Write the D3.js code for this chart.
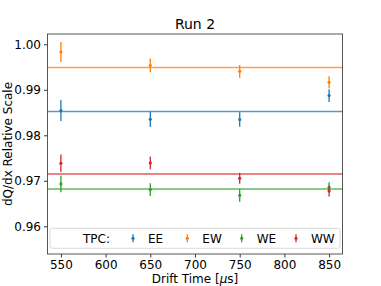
<!DOCTYPE html>
<html>
<head>
<meta charset="utf-8">
<script src="https://cdn.jsdelivr.net/npm/d3@7"></script>
<style>
  body { margin: 0; background: #fff; }
  svg { font-family: "DejaVu Sans", sans-serif; }
</style>
</head>
<body>
<svg id="chart" width="381" height="286"></svg>
<script>
// drift times
var driftTimes = [550, 650, 750, 850];
var tpcNames = ['EE', 'EW', 'WE', 'WW'];
var tpcColors = ['#1f77b4', '#ff7f0e', '#2ca02c', '#d62728'];

// relative scale per drift time, per TPC
var eeValues = [0.98543, 0.98352, 0.98345, 0.98872];
var ewValues = [0.99831, 0.99538, 0.99407, 0.99165];
var weValues = [0.96930, 0.96807, 0.96681, 0.96857];
var wwValues = [0.97385, 0.97392, 0.97055, 0.96776];

var eeErrors = [0.0023, 0.0017, 0.0016, 0.0014];
var ewErrors = [0.0022, 0.0015, 0.0014, 0.0013];
var weErrors = [0.0018, 0.0014, 0.0014, 0.0011];
var wwErrors = [0.0019, 0.0014, 0.0012, 0.0012];

// fitted constant per TPC
var fitLevels = [0.98521, 0.99488, 0.96820, 0.97149];

var xTicks = [550, 600, 650, 700, 750, 800, 850];
var yTicks = [0.96, 0.97, 0.98, 0.99, 1.00];

var series = [
	{ name: 'EE', values: eeValues, errors: eeErrors },
	{ name: 'EW', values: ewValues, errors: ewErrors },
	{ name: 'WE', values: weValues, errors: weErrors },
	{ name: 'WW', values: wwValues, errors: wwErrors }
];

var svg = d3.select('#chart');
var plotLeft = 47.5, plotRight = 342.5, plotTop = 34, plotBottom = 254;

var x = d3.scaleLinear().domain([535, 865]).range([plotLeft, plotRight]);
var y = d3.scaleLinear().domain([0.95391, 1.00226]).range([plotBottom, plotTop]);

var color = d3.scaleOrdinal().domain(tpcNames).range(tpcColors);

// fit lines
svg.selectAll('line.fit')
	.data(fitLevels)
	.enter()
		.append('line')
		.attr('class', 'fit')
		.attr('x1', plotLeft)
		.attr('x2', plotRight)
		.attr('y1', function(d) { return y(d); })
		.attr('y2', function(d) { return y(d); })
		.attr('stroke', function(d, i) { return tpcColors[i]; })
		.attr('stroke-opacity', 0.75)
		.attr('stroke-width', 1.5);

// error bars
var groups = svg.selectAll('g.series')
	.data(series)
	.enter()
		.append('g')
		.attr('class', 'series')
		.attr('fill', function(d) { return color(d.name); })
		.attr('stroke', function(d) { return color(d.name); });

groups.selectAll('line.err')
	.data(function(d) { return d.values.map(function(v, i) { return { t: driftTimes[i], v: v, e: d.errors[i] }; }); })
	.enter()
		.append('line')
		.attr('class', 'err')
		.attr('x1', function(d) { return x(d.t); })
		.attr('x2', function(d) { return x(d.t); })
		.attr('y1', function(d) { return y(d.v - d.e); })
		.attr('y2', function(d) { return y(d.v + d.e); })
		.attr('stroke-width', 1.3);

groups.selectAll('circle')
	.data(function(d) { return d.values.map(function(v, i) { return { t: driftTimes[i], v: v }; }); })
	.enter()
		.append('circle')
		.attr('cx', function(d) { return x(d.t); })
		.attr('cy', function(d) { return y(d.v); })
		.attr('r', 1.6)
		.attr('stroke', 'none');

// axes
var xAxis = d3.axisBottom(x).tickValues(xTicks).tickSize(3.5).tickPadding(3).tickFormat(d3.format('d'));
var yAxis = d3.axisLeft(y).tickValues(yTicks).tickSize(3.5).tickPadding(3).tickFormat(d3.format('.2f'));

var gx = svg.append('g').attr('transform', 'translate(0,' + plotBottom + ')').call(xAxis);
var gy = svg.append('g').attr('transform', 'translate(' + plotLeft + ',0)').call(yAxis);

[gx, gy].forEach(function(g) {
	g.select('.domain').remove();
	g.selectAll('text').attr('font-size', 12).attr('fill', '#000').attr('font-family', 'DejaVu Sans');
	g.selectAll('line').attr('stroke', '#000').attr('stroke-width', 0.8);
});

// legend
var legend = svg.append('g');
legend.append('rect')
	.attr('x', 50).attr('y', 228.3)
	.attr('width', 290).attr('height', 20)
	.attr('rx', 2.5)
	.attr('fill', '#fff').attr('fill-opacity', 0.8)
	.attr('stroke', '#d0d0d0').attr('stroke-width', 0.8);

legend.append('text')
	.attr('x', 83).attr('y', 242.5)
	.attr('font-size', 12)
	.text('TPC:');

var legendX = d3.scalePoint().domain(tpcNames).range([133, 296]);

var items = legend.selectAll('g.item')
	.data(tpcNames)
	.enter()
		.append('g')
		.attr('class', 'item')
		.attr('transform', function(d) { return 'translate(' + legendX(d) + ',238.3)'; });

items.append('line')
	.attr('y1', -4).attr('y2', 4)
	.attr('stroke', function(d) { return color(d); })
	.attr('stroke-width', 1.3);
items.append('circle')
	.attr('r', 1.6)
	.attr('fill', function(d) { return color(d); });
items.append('text')
	.attr('x', 15).attr('y', 4.2)
	.attr('font-size', 12)
	.text(function(d) { return d; });

// frame
svg.append('rect')
	.attr('x', plotLeft).attr('y', plotTop)
	.attr('width', plotRight - plotLeft).attr('height', plotBottom - plotTop)
	.attr('fill', 'none')
	.attr('stroke', '#444')
	.attr('stroke-width', 0.9);

// labels
svg.append('text')
	.attr('x', (plotLeft + plotRight) / 2).attr('y', 29)
	.attr('text-anchor', 'middle')
	.attr('font-size', 14)
	.text('Run 2');

var xl = svg.append('text')
	.attr('x', (plotLeft + plotRight) / 2).attr('y', 283)
	.attr('text-anchor', 'middle')
	.attr('font-size', 12);
xl.append('tspan').text('Drift Time [');
xl.append('tspan').attr('font-style', 'italic').text('μ');
xl.append('tspan').text('s]');

svg.append('text')
	.attr('transform', 'translate(12,' + (plotTop + plotBottom) / 2 + ') rotate(-90)')
	.attr('text-anchor', 'middle')
	.attr('font-size', 12)
	.text('dQ/dx Relative Scale');
</script>
</body>
</html>
